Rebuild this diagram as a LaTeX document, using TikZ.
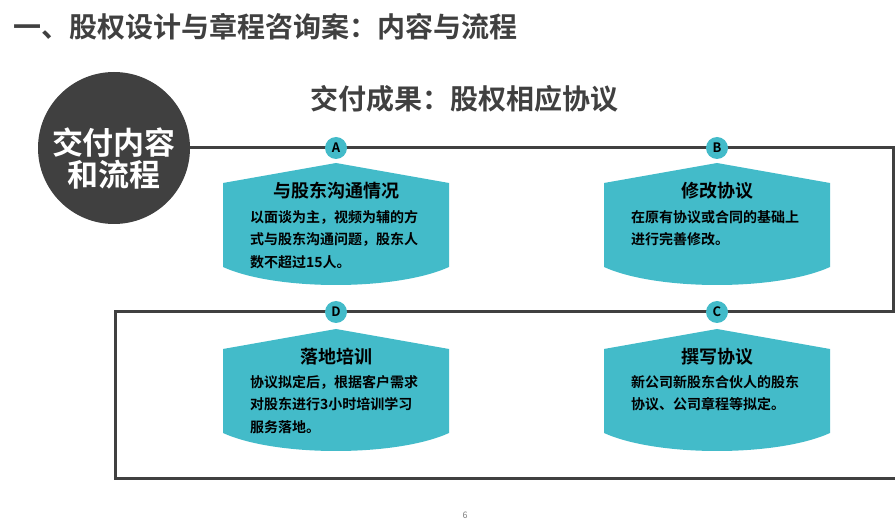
\documentclass[tikz,border=0pt]{standalone}
\usepackage{fontspec}
\setmainfont{Noto Sans CJK SC}[BoldFont={* Bold}]
\usetikzlibrary{calc}
\definecolor{linegray}{HTML}{404040}
\definecolor{tealc}{HTML}{43BBC9}
\def\cardshape(#1,#2){\fill[tealc] (#1-113,#2+20) -- (#1,#2) -- (#1+113,#2+20) -- (#1+113,#2+104) .. controls (#1+60,#2+128) and (#1-60,#2+128) .. (#1-113,#2+104) -- cycle;}

\begin{document}
\begin{tikzpicture}[x=1pt,y=-1pt,
	flowline/.style={line width=3pt, color=linegray},
	lettercirc/.style={circle, fill=tealc, minimum size=22pt, inner sep=0pt, font=\bfseries\fontsize{13}{13}\selectfont},
	cardtitle/.style={inner sep=0pt, font=\bfseries\fontsize{18}{18}\selectfont},
	cardbody/.style={anchor=north west, inner sep=0pt, align=left, font=\bfseries\fontsize{14}{22.5}\selectfont}]
			%%%%% START %%%%%
			
			\useasboundingbox (0,0) rectangle (895,529);
			
			\node[anchor=west, inner sep=0pt, text=linegray, font=\bfseries\fontsize{28}{28}\selectfont] (title) at (13,27) {一、股权设计与章程咨询案：内容与流程};
			\node[inner sep=0pt, text=linegray, font=\bfseries\fontsize{28}{28}\selectfont] (result) at (464,99) {交付成果：股权相应协议};
			
			\node[circle, fill=linegray, minimum size=152pt, inner sep=0pt] (hub) at (114,148) {};
			\node[inner sep=0pt, text=white, align=center, font=\bfseries\fontsize{31}{32}\selectfont] (hubtext) at (114,159) {交付内容\\和流程};
			
			\coordinate (cNE) at (893,148);
			\coordinate (cE) at (893,312);
			\coordinate (cW) at (115,312);
			\coordinate (cSW) at (115,478);
			\coordinate (cS) at (895,478);
			\draw[flowline] (hub.east) -- (cNE) -- (cE) -- (cW) -- (cSW) -- (cS);
			
			\cardshape(336,163);
			\cardshape(717,163);
			\cardshape(717,329);
			\cardshape(336,329);
			
			\node[lettercirc] (ltA) at (336,148) {A};
			\node[lettercirc] (ltB) at (717,148) {B};
			\node[lettercirc] (ltC) at (717,312) {C};
			\node[lettercirc] (ltD) at (336,312) {D};
			
			\node[cardtitle] (titleA) at (336,191) {与股东沟通情况};
			\node[cardbody] (bodyA) at (250,210) {以面谈为主，视频为辅的方\\式与股东沟通问题，股东人\\数不超过15人。};
			
			\node[cardtitle] (titleB) at (717,191) {修改协议};
			\node[cardbody] (bodyB) at (631,210) {在原有协议或合同的基础上\\进行完善修改。};
			
			\node[cardtitle] (titleC) at (717,357) {撰写协议};
			\node[cardbody] (bodyC) at (631,375) {新公司新股东合伙人的股东\\协议、公司章程等拟定。};
			
			\node[cardtitle] (titleD) at (336,357) {落地培训};
			\node[cardbody] (bodyD) at (250,375) {协议拟定后，根据客户需求\\对股东进行3小时培训学习\\服务落地。};
			
			\node[inner sep=0pt, text=gray, font=\fontsize{9}{9}\selectfont] (pagenum) at (465,515) {6};
			
			%%%%% END %%%%%
\end{tikzpicture}
\end{document}
